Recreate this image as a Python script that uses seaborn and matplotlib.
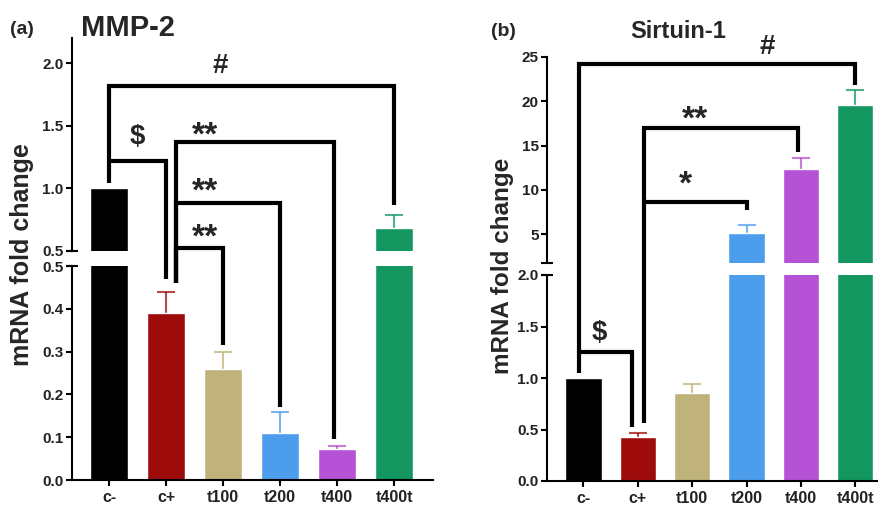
import numpy as np
import pandas as pd
import matplotlib
matplotlib.use('Agg')
import matplotlib.pyplot as plt
import seaborn as sns
from matplotlib.lines import Line2D

# data
groups = ['c-', 'c+', 't100', 't200', 't400', 't400t']
bar_colors = ['#000000', '#9e0b0b', '#bfb27a', '#4d9ded', '#b552d6', '#139660']

mmp2_mean = [1.0, 0.39, 0.26, 0.11, 0.072, 0.68]
mmp2_err = [0.0, 0.05, 0.04, 0.05, 0.008, 0.11]

sirt1_mean = [1.0, 0.43, 0.855, 5.1, 12.4, 19.6]
sirt1_err = [0.0, 0.04, 0.085, 0.9, 1.2, 1.7]

# brackets: (x left, x right, y of bar, y end of left leg, y end of right leg)
mmp2_brackets = [(0.0, 5.0, 1.82, 1.04, 0.87),
                 (0.0, 1.0, 1.22, 1.22, 0.47),
                 (1.17, 3.95, 1.37, 0.46, 0.095),
                 (1.17, 3.0, 0.88, 0.46, 0.17),
                 (1.17, 2.0, 0.52, 0.46, 0.315)]
mmp2_signs = [('#', 1.95, 1.98), ('$', 0.5, 1.41),
              ('**', 1.68, 1.42), ('**', 1.68, 0.97), ('**', 1.68, 0.60)]

sirt1_brackets = [(-0.09, 5.0, 24.2, 1.05, 21.8),
                  (-0.09, 0.89, 1.25, 1.25, 0.52),
                  (1.11, 3.95, 17.0, 0.56, 14.3),
                  (1.11, 3.0, 8.6, 8.6, 7.7)]
sirt1_signs = [('#', 3.38, 26.1), ('**', 2.05, 17.9), ('*', 1.87, 10.6), ('$', 0.3, 1.44)]

sns.set_style('ticks')
plt.rcParams['font.family'] = ['Liberation Sans', 'DejaVu Sans']
plt.rcParams['font.weight'] = 'bold'

W, H = 883, 507
fig = plt.figure(figsize=(W / 100, H / 100), dpi=100)


def px_axes(left, right, top, bottom):
    return fig.add_axes([left / W, (H - bottom) / H, (right - left) / W, (bottom - top) / H])


def draw_bars(ax, mean, err):
    df = pd.DataFrame({'group': groups, 'value': mean})
    sns.barplot(data=df, x='group', y='value', hue='group', palette=bar_colors,
                width=0.67, saturation=1, errorbar=None, legend=False, ax=ax, zorder=2)
    for i, (m, e) in enumerate(zip(mean, err)):
        if e > 0:
            eb = ax.errorbar(i, m, yerr=[[0], [e]], fmt='none', ecolor=bar_colors[i],
                             alpha=0.75, elinewidth=1.5, capsize=6.5, capthick=1.5, zorder=1)
            # only the upper cap is shown
            for cap in eb[1]:
                if np.allclose(cap.get_ydata(), m):
                    cap.set_visible(False)
    ax.set_xlabel('')
    ax.set_ylabel('')


def style_axes(ax, lower):
    for s in ['top', 'right']:
        ax.spines[s].set_visible(False)
    ax.spines['left'].set_linewidth(1.5)
    ax.spines['left'].set_color('black')
    if lower:
        ax.spines['bottom'].set_linewidth(1.5)
        ax.spines['bottom'].set_color('black')
        ax.tick_params(axis='x', length=4, width=1.5, color='black', labelsize=11.5,
                       labelcolor='#222222', pad=3)
    else:
        ax.spines['bottom'].set_visible(False)
        ax.set_xticks([])
    ax.tick_params(axis='y', length=4, width=1.5, color='black', labelsize=11,
                   labelcolor='#222222', pad=2)


def break_cap(ax, yval):
    ax.plot(0, yval, marker='_', markersize=9, mew=1.5, color='black',
            transform=ax.get_yaxis_transform(), clip_on=False)


def draw_brackets(up, lo, lower_top, brackets):
    def to_fig(x, y):
        ax = up if y > lower_top else lo
        return fig.transFigure.inverted().transform(ax.transData.transform((x, y)))

    for xl, xr, yt, yl, yr in brackets:
        pts = np.array([to_fig(xl, yl), to_fig(xl, yt), to_fig(xr, yt), to_fig(xr, yr)])
        fig.add_artist(Line2D(pts[:, 0], pts[:, 1], transform=fig.transFigure,
                              color='black', lw=3, solid_joinstyle='miter',
                              solid_capstyle='butt'))


def draw_signs(up, lo, lower_top, signs):
    for s, x, y in signs:
        ax = up if y > lower_top else lo
        size = 24 if '*' in s else 20
        ax.text(x, y, s, ha='center', va='center', fontsize=size, fontweight='bold',
                clip_on=False)


# ---- panel (a) MMP-2
a_up = px_axes(72, 433, 38, 251)
a_lo = px_axes(72, 433, 266, 480)
for ax in (a_up, a_lo):
    draw_bars(ax, mmp2_mean, mmp2_err)
    ax.set_xlim(-0.65, 5.68)
a_up.set_ylim(0.5, 2.2)
a_up.set_yticks([0.5, 1.0, 1.5, 2.0])
a_lo.set_ylim(0, 0.5)
a_lo.set_yticks(np.arange(0, 0.51, 0.1))
style_axes(a_up, False)
style_axes(a_lo, True)
break_cap(a_up, 0.5)
break_cap(a_lo, 0.5)
draw_brackets(a_up, a_lo, 0.5, mmp2_brackets)
draw_signs(a_up, a_lo, 0.5, mmp2_signs)

# ---- panel (b) Sirtuin-1
b_up = px_axes(547, 877, 57, 262.7)
b_lo = px_axes(547, 877, 275, 481)
for ax in (b_up, b_lo):
    draw_bars(ax, sirt1_mean, sirt1_err)
    ax.set_xlim(-0.67, 5.4)
b_up.set_ylim(1.8, 25)
b_up.set_yticks([5, 10, 15, 20, 25])
b_lo.set_ylim(0, 2.0)
b_lo.set_yticks(np.arange(0, 2.01, 0.5))
style_axes(b_up, False)
style_axes(b_lo, True)
break_cap(b_up, 1.8)
break_cap(b_lo, 2.0)
draw_brackets(b_up, b_lo, 2.0, sirt1_brackets)
draw_signs(b_up, b_lo, 2.0, sirt1_signs)

# ---- titles and labels
fig.text(22 / W, 1 - 30 / H, '(a)', ha='center', va='center', fontsize=14, fontweight='bold')
fig.text(128 / W, 1 - 28 / H, 'MMP-2', ha='center', va='center', fontsize=21, fontweight='bold')
fig.text(503 / W, 1 - 32 / H, '(b)', ha='center', va='center', fontsize=14, fontweight='bold')
fig.text(678 / W, 1 - 32 / H, 'Sirtuin-1', ha='center', va='center', fontsize=17, fontweight='bold')
fig.text(22 / W, 1 - 255 / H, 'mRNA fold change', rotation=90, ha='center', va='center',
         fontsize=18, fontweight='bold')
fig.text(503 / W, 1 - 266 / H, 'mRNA fold change', rotation=90, ha='center', va='center',
         fontsize=17.5, fontweight='bold')

fig.savefig('out.png', dpi=100)
